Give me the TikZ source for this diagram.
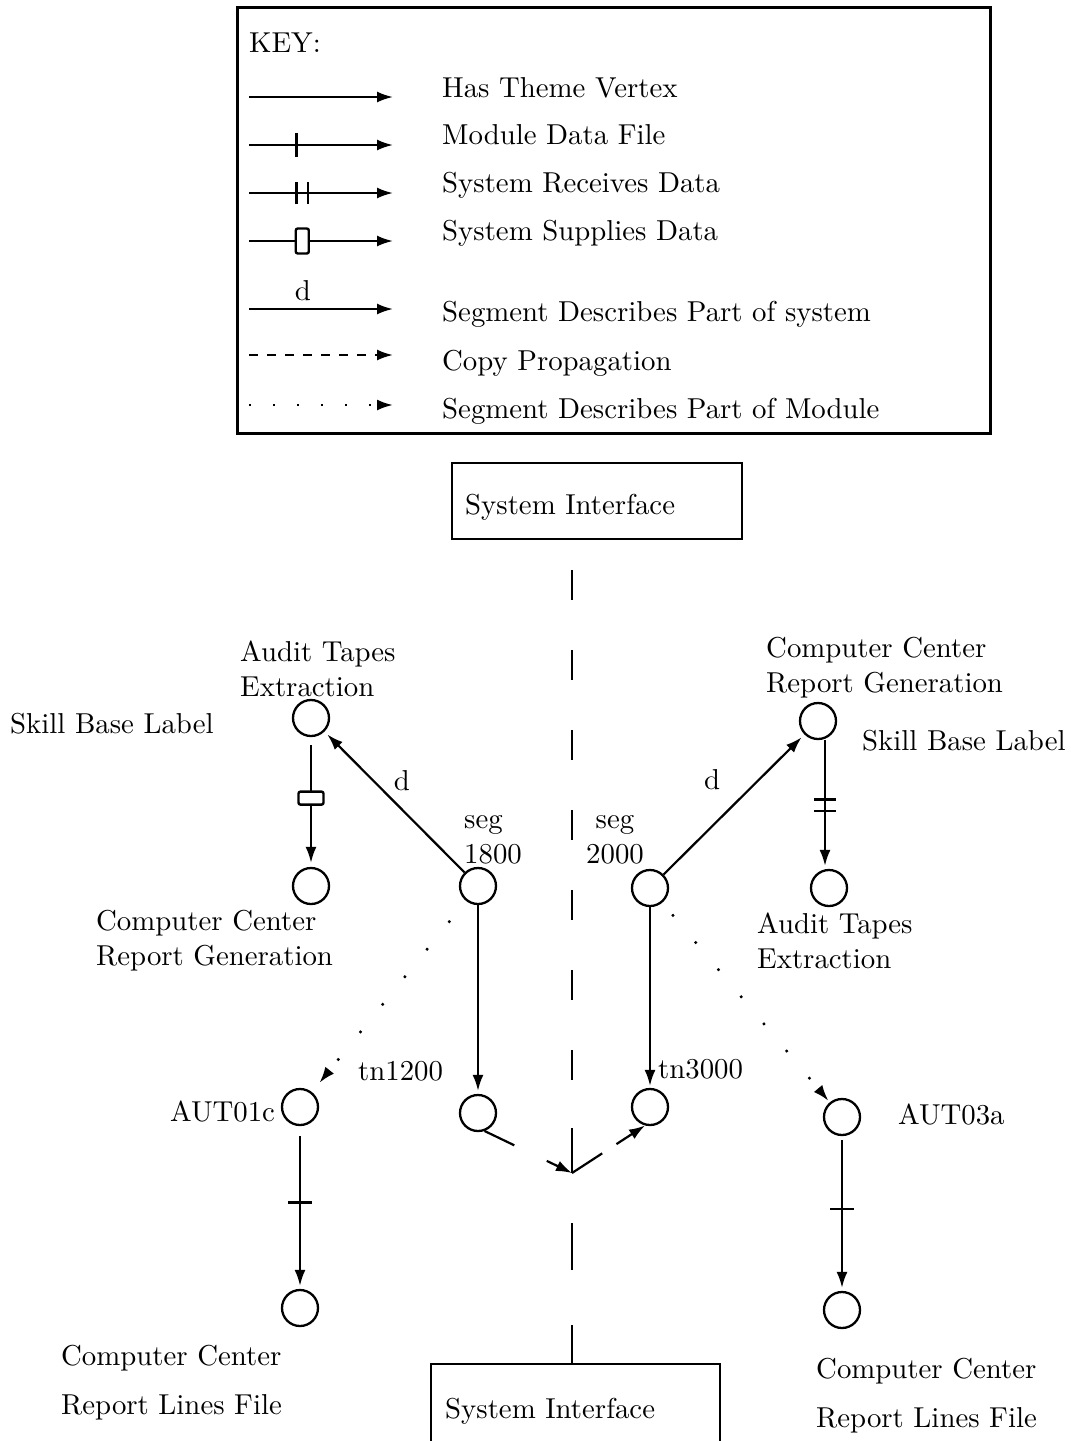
\documentclass[tikz,border=0pt]{standalone}
\usepackage{fontspec}
\setmainfont{lmroman10-regular.otf}
\usetikzlibrary{arrows.meta,decorations.markings,calc}
\tikzset{
  vtx/.style={circle, draw, line width=2.3pt, minimum size=36pt, inner sep=0pt},
  con/.style={line width=2.2pt, -{Latex[length=16pt,width=11pt]}},
  lbl/.style={anchor=base west, inner sep=0pt, align=left},
  clbl/.style={anchor=base, inner sep=0pt, align=center},
  mk/.style={-, solid, line width=2.4pt, shorten <=0pt, shorten >=0pt},
  tickone/.style={postaction={decorate, decoration={markings,
      mark=at position #1 with {\draw[mk] (0pt,-12pt) -- (0pt,12pt);}}}},
  ticktwo/.style 2 args={postaction={decorate, decoration={markings,
      mark=at position #1 with {\draw[mk] (0pt,-11pt) -- (0pt,11pt);},
      mark=at position #2 with {\draw[mk] (0pt,-11pt) -- (0pt,11pt);}}}},
  boxmk/.style={postaction={decorate, decoration={markings,
      mark=at position #1 with {\draw[mk, fill=white, rounded corners=2pt] (-6.5pt,-12.5pt) rectangle (6.5pt,12.5pt);}}}},
  dotln/.style={line width=2.4pt, dash pattern=on 2.4pt off 33pt},
}
\begin{document}
\begin{tikzpicture}[x=1pt,y=-1pt, font=\fontsize{28.8}{35}\selectfont]
\useasboundingbox (0,0) rectangle (1071,1441);
% ---------------- key ----------------
\node (keybox) [draw, line width=2.6pt, minimum width=753pt, minimum height=426pt, anchor=north west, inner sep=0pt] at (236,6) {};
\node (keyt) [lbl] at (249,52) {KEY:};
\foreach \i/\y in {1/97,2/145,3/193,4/241,5/309,6/355,7/405}{
  \coordinate (k\i a) at (249,\y);
  \coordinate (k\i b) at (393,\y);
}
\draw[con] (k1a) -- (k1b);
\draw[con, tickone=0.33] (k2a) -- (k2b);
\draw[con, ticktwo={0.33}{0.41}] (k3a) -- (k3b);
\draw[con, boxmk=0.37] (k4a) -- (k4b);
\draw[con] (k5a) -- (k5b);
\node (kd) [clbl] at (303,300) {d};
\draw[con, dash pattern=on 9pt off 9pt] (k6a) -- (k6b);
\draw[con, line width=2.4pt, dash pattern=on 2.4pt off 21.6pt] (k7a) -- (k7b);
\node (l1) [lbl] at (442,97) {Has Theme Vertex};
\node (l2) [lbl] at (442,144) {Module Data File};
\node (l3) [lbl] at (442,192) {System Receives Data};
\node (l4) [lbl] at (442,240) {System Supplies Data};
\node (l5) [lbl] at (442,321) {Segment Describes Part of system};
\node (l6) [lbl] at (442,370) {Copy Propagation};
\node (l7) [lbl] at (442,418) {Segment Describes Part of Module};
% ---------------- interface boxes ----------------
\node (sitop) [draw, line width=2.4pt, anchor=north west, minimum width=290pt, minimum height=76pt, inner sep=0pt] at (451,462) {};
\node (sitopt) [lbl] at (465,514) {System Interface};
\node (sibot) [draw, line width=2.4pt, anchor=north west, minimum width=289pt, minimum height=78pt, inner sep=0pt] at (430,1363) {};
\node (sibott) [lbl] at (445,1418) {System Interface};
\coordinate (jn) at (572,1173);
\draw[line width=2.2pt, dash pattern=on 30pt off 50pt, dash phase=50pt] (sitop.south -| jn) -- (jn);
\draw[line width=2.2pt] (jn) -- ++(0,-45);
\draw[line width=2.2pt, dash pattern=on 0pt off 50pt on 47pt off 55pt on 60pt off 10pt] (jn) -- (sibot.north -| jn);
% ---------------- vertices ----------------
\node (ateL) [vtx] at (311,718) {};
\node (ccrgL) [vtx] at (311,886) {};
\node (seg18) [vtx] at (478,886) {};
\node (seg20) [vtx] at (650,888) {};
\node (ccrgR) [vtx] at (818,721) {};
\node (ateR) [vtx] at (829,888) {};
\node (aut01) [vtx] at (300,1107) {};
\node (tn12) [vtx] at (478,1113) {};
\node (tn30) [vtx] at (650,1107) {};
\node (aut03) [vtx] at (842,1117) {};
\node (rlfL) [vtx] at (300,1308) {};
\node (rlfR) [vtx] at (842,1310) {};
% ---------------- connectors ----------------
\draw[con, shorten >=4pt] (seg18) -- (ateL);
\draw[con, boxmk=0.47, shorten <=8pt, shorten >=4pt] (ateL) -- (ccrgL);
\draw[con, shorten >=4pt] (seg20) -- (ccrgR);
\draw[con, ticktwo={0.46}{0.55}, shorten >=3pt] ($(ccrgR.south)+(7,0)$) -- ($(ateR.north)+(-4,0)$);
\draw[con, shorten >=3pt] (seg18) -- (tn12);
\draw[con, shorten >=2pt] (seg20) -- (tn30);
\draw[con, dotln, dash phase=10pt, shorten >=12pt] (seg18) -- (aut01);
\draw[con, dotln, dash phase=20pt, shorten >=2pt] (seg20) -- (aut03);
\draw[con, tickone=0.47, shorten <=10pt, shorten >=3pt] (aut01) -- (rlfL);
\draw[con, tickone=0.47, shorten <=4pt, shorten >=3pt] (aut03) -- (rlfR);
\draw[con, dash pattern=on 33pt off 36pt] (tn12.290) -- (jn);
\draw[con, dash pattern=on 36pt off 17pt] (jn) -- (tn30.255);
% ---------------- labels ----------------
\node (tAteL) [lbl] at (240,696) {Audit Tapes\\Extraction};
\node (tSblL) [lbl] at (10,733) {Skill Base Label};
\node (tCcrgL) [lbl] at (96,965) {Computer Center\\Report Generation};
\node (tSeg18) [lbl] at (464,863) {seg\\1800};
\node (tSeg20) [clbl] at (615,863) {seg\\2000};
\node (tCcrgR) [lbl] at (766,692) {Computer Center\\Report Generation};
\node (tSblR) [lbl] at (862,750) {Skill Base Label};
\node (tAteR) [lbl] at (757,968) {Audit Tapes\\Extraction};
\node (dL) [clbl] at (402,790) {d};
\node (dR) [clbl] at (712,789) {d};
\node (tAut01) [lbl] at (170,1121) {AUT01c};
\node (tTn12) [lbl] at (358,1080) {tn1200};
\node (tTn30) [lbl] at (658,1078) {tn3000};
\node (tAut03) [lbl] at (898,1124) {AUT03a};
\node (tRlfL) [lbl] at (61,1414) {Computer Center\\[14pt]Report Lines File};
\node (tRlfR) [lbl] at (816,1427) {Computer Center\\[14pt]Report Lines File};
\end{tikzpicture}
\end{document}
